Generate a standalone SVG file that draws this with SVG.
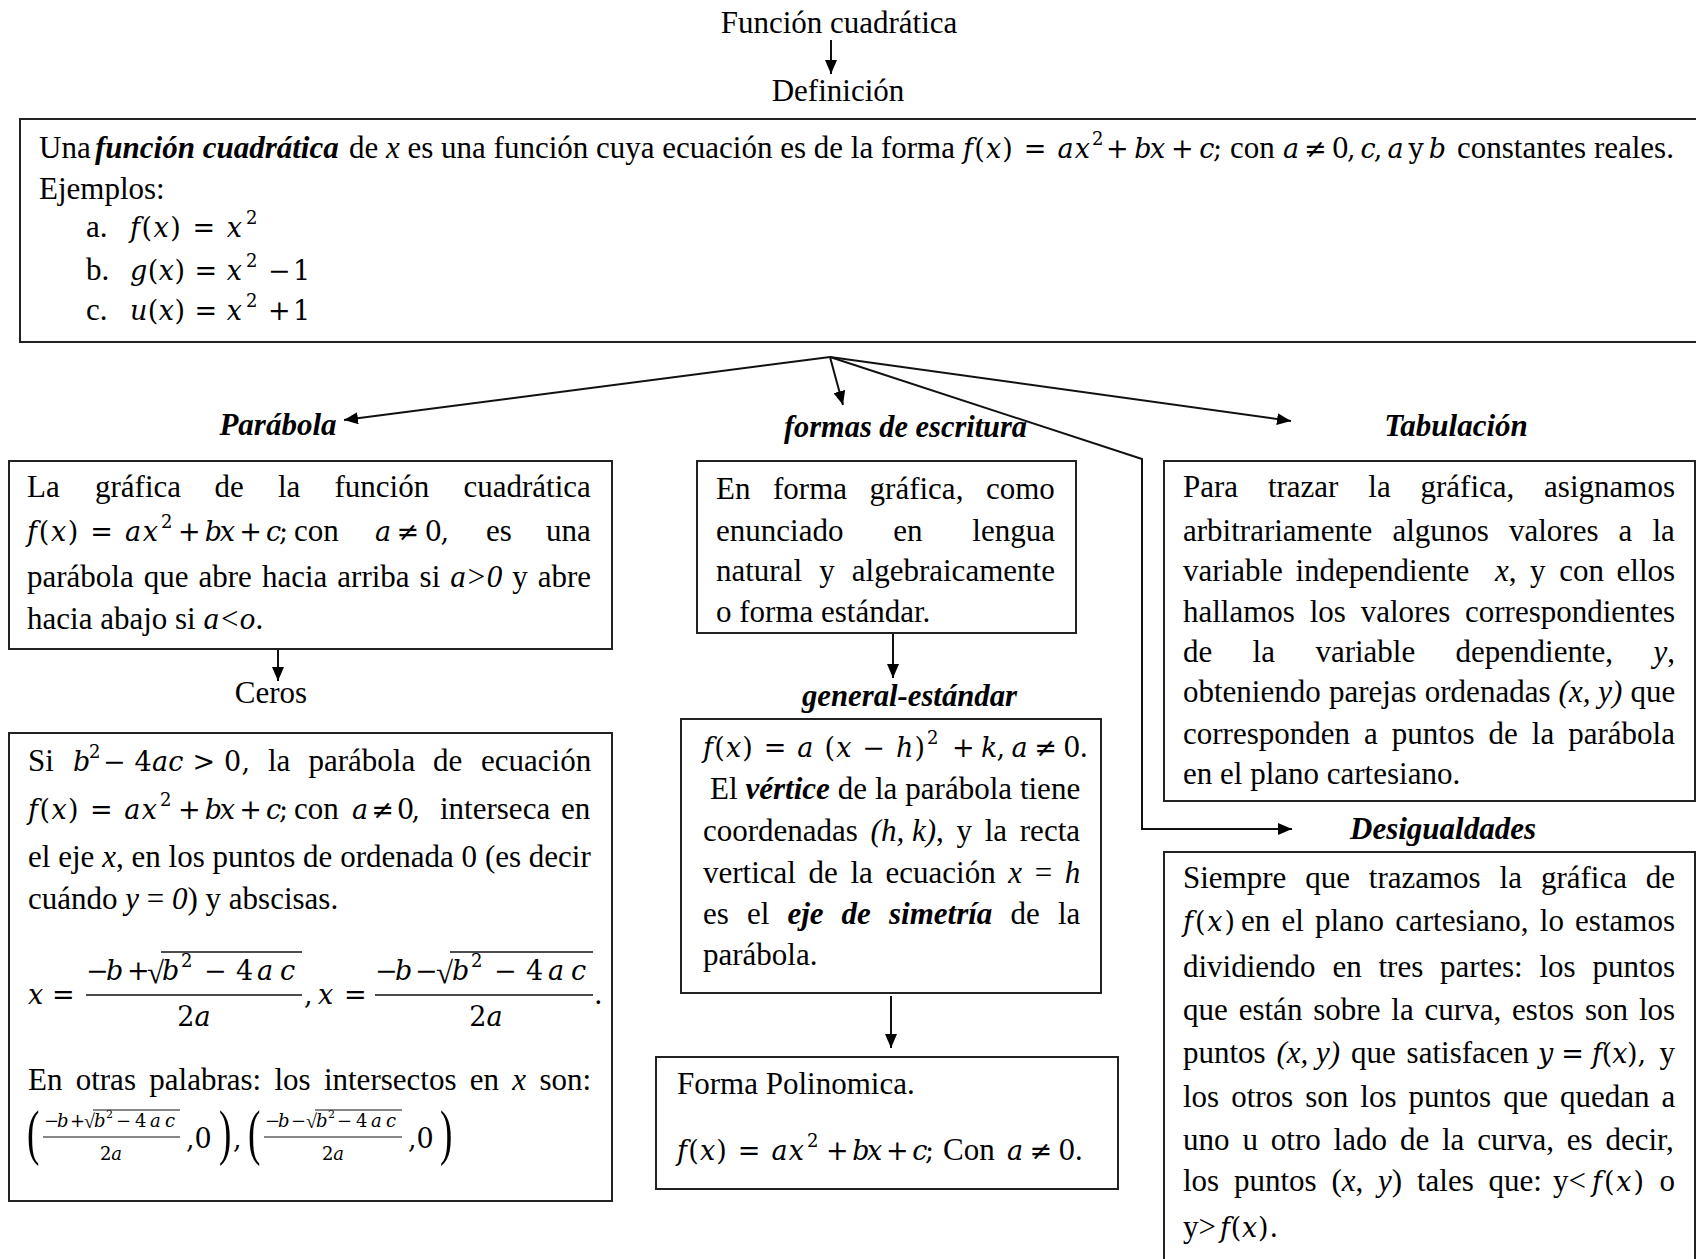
<svg xmlns="http://www.w3.org/2000/svg" width="1696" height="1259" viewBox="0 0 1696 1259">
<style>
.t{font-family:"Liberation Serif","Times New Roman",serif;font-size:31px;fill:#000}
.m{font-family:"DejaVu Serif","Liberation Serif",serif;font-size:27px;fill:#000}
.i{font-style:italic}
.b{font-weight:bold}
.bi{font-weight:bold;font-style:italic}
.s{font-size:18px}
.sm{font-size:18px}
.xs{font-size:11px}
.box{fill:#fff;stroke:#222;stroke-width:2}
.c{fill:none;stroke:#111;stroke-width:2}
.fr{stroke:#111;stroke-width:1.6}
</style>
<defs>
<marker id="ah" markerUnits="userSpaceOnUse" markerWidth="14" markerHeight="12" refX="14" refY="6" orient="auto">
<path d="M0,0 L14,6 L0,12 z" fill="#000"/>
</marker>
</defs>
<rect width="1696" height="1259" fill="#fff"/>

<g id="connectors">
<line class="c" x1="831" y1="40" x2="831" y2="74" marker-end="url(#ah)"/>
<line class="c" x1="830" y1="357" x2="344" y2="420" marker-end="url(#ah)"/>
<line class="c" x1="830" y1="357" x2="843" y2="405" marker-end="url(#ah)"/>
<line class="c" x1="830" y1="357" x2="1291" y2="421" marker-end="url(#ah)"/>
<polyline class="c" points="830,357 1142,459 1142,829 1292,829" marker-end="url(#ah)"/>
<line class="c" x1="278" y1="649" x2="278" y2="681" marker-end="url(#ah)"/>
<line class="c" x1="893" y1="633" x2="893" y2="678" marker-end="url(#ah)"/>
<line class="c" x1="891" y1="996" x2="891" y2="1048" marker-end="url(#ah)"/>
</g>

<g id="n-titulo"><text class="t" x="839" y="33" text-anchor="middle">Función cuadrática</text></g>
<g id="n-definicion-label"><text class="t" x="838" y="101" text-anchor="middle">Definición</text></g>

<g id="n-definicion">
<rect class="box" x="20" y="119" width="1700" height="223"/>
<text class="t" x="39" y="158">Una</text>
<text class="t bi" x="95" y="158">función cuadrática</text>
<text class="t" x="349" y="158">de <tspan class="i">x</tspan> es una función cuya ecuación es de la forma</text>
<text class="m" x="963" y="158" textLength="127" lengthAdjust="spacing"><tspan class="i">f</tspan>(<tspan class="i">x</tspan>) = <tspan class="i">ax</tspan></text>
<text class="m s" x="1092" y="145">2</text>
<text class="m" x="1106" y="158" textLength="116" lengthAdjust="spacing">+ <tspan class="i">bx</tspan> + <tspan class="i">c</tspan>;</text>
<text class="t" x="1230" y="158">con</text>
<text class="m" x="1283" y="158" textLength="163" lengthAdjust="spacing"><tspan class="i">a</tspan> ≠ 0, <tspan class="i">c</tspan>, <tspan class="i">a</tspan> y <tspan class="i">b</tspan></text>
<text class="t" x="1457" y="158">constantes reales.</text>
<text class="t" x="39" y="199">Ejemplos:</text>
<text class="t" x="86" y="237">a.</text>
<text class="m" x="130" y="237" textLength="112" lengthAdjust="spacing"><tspan class="i">f</tspan>(<tspan class="i">x</tspan>) = <tspan class="i">x</tspan></text>
<text class="m s" x="246" y="224">2</text>
<text class="t" x="86" y="280">b.</text>
<text class="m" x="130" y="280" textLength="112" lengthAdjust="spacing"><tspan class="i">g</tspan>(<tspan class="i">x</tspan>) = <tspan class="i">x</tspan></text>
<text class="m s" x="246" y="267">2</text>
<text class="m" y="280"><tspan x="268">−</tspan><tspan x="293">1</tspan></text>
<text class="t" x="86" y="320">c.</text>
<text class="m" x="130" y="320" textLength="112" lengthAdjust="spacing"><tspan class="i">u</tspan>(<tspan class="i">x</tspan>) = <tspan class="i">x</tspan></text>
<text class="m s" x="246" y="307">2</text>
<text class="m" y="320"><tspan x="268">+</tspan><tspan x="293">1</tspan></text>
</g>

<g id="n-parabola-label"><text class="t bi" x="278" y="435" text-anchor="middle">Parábola</text></g>
<g id="n-parabola">
<rect class="box" x="9" y="461" width="603" height="188"/>
<text class="t" y="497"><tspan x="27">La</tspan><tspan x="95">gráfica</tspan><tspan x="214.5">de</tspan><tspan x="278">la</tspan><tspan x="334.5">función</tspan><tspan x="463.5">cuadrática</tspan></text>
<text class="m" x="27" y="541" textLength="131" lengthAdjust="spacing"><tspan class="i">f</tspan>(<tspan class="i">x</tspan>) = <tspan class="i">ax</tspan></text>
<text class="m s" x="161" y="528">2</text>
<text class="m" x="178" y="541" textLength="110" lengthAdjust="spacing">+ <tspan class="i">bx</tspan> + <tspan class="i">c</tspan>;</text>
<text class="t" x="294" y="541">con</text>
<text class="m" x="375" y="541" textLength="74" lengthAdjust="spacing"><tspan class="i">a</tspan> ≠ 0,</text>
<text class="t" y="541"><tspan x="486">es</tspan><tspan x="546">una</tspan></text>
<text class="t" y="587"><tspan x="27">parábola</tspan><tspan x="143.7">que</tspan><tspan x="198.5">abre</tspan><tspan x="261.9">hacia</tspan><tspan x="337.3">arriba</tspan><tspan x="419.6">si</tspan><tspan x="450.3" class="i">a&gt;0</tspan><tspan x="512.2">y</tspan><tspan x="537.7">abre</tspan></text>
<text class="t" x="27" y="629">hacia abajo si <tspan class="i">a&lt;o</tspan>.</text>
</g>

<g id="n-ceros-label"><text class="t" x="271" y="703" text-anchor="middle">Ceros</text></g>
<g id="n-ceros">
<rect class="box" x="9" y="733" width="603" height="468"/>
<text class="t" x="28" y="771">Si</text>
<text class="m i" x="73" y="771">b</text>
<text class="m s" x="89" y="758">2</text>
<text class="m" x="103" y="771" textLength="147" lengthAdjust="spacing">− 4<tspan class="i">ac</tspan> &gt; 0,</text>
<text class="t" y="771"><tspan x="268">la</tspan><tspan x="308.5">parábola</tspan><tspan x="433">de</tspan><tspan x="481">ecuación</tspan></text>
<text class="m" x="28" y="819" textLength="129" lengthAdjust="spacing"><tspan class="i">f</tspan>(<tspan class="i">x</tspan>) = <tspan class="i">ax</tspan></text>
<text class="m s" x="160" y="806">2</text>
<text class="m" x="178" y="819" textLength="110" lengthAdjust="spacing">+ <tspan class="i">bx</tspan> + <tspan class="i">c</tspan>;</text>
<text class="t" x="294" y="819">con</text>
<text class="m" x="352" y="819" textLength="68" lengthAdjust="spacing"><tspan class="i">a</tspan> ≠ 0,</text>
<text class="t" y="819"><tspan x="440">interseca</tspan><tspan x="561">en</tspan></text>
<text class="t" y="867"><tspan x="28">el</tspan><tspan x="58.2">eje</tspan><tspan x="102.2" class="i">x</tspan><tspan>,</tspan><tspan x="131.5">en</tspan><tspan x="168.6">los</tspan><tspan x="212.6">puntos</tspan><tspan x="303.1">de</tspan><tspan x="340.2">ordenada</tspan><tspan x="461.6">0</tspan><tspan x="484.9">(es</tspan><tspan x="528.8">decir</tspan></text>
<text class="t" x="28" y="909">cuándo <tspan class="i">y</tspan> = <tspan class="i">0</tspan>) y abscisas.</text>
<text class="m" y="1004"><tspan x="28" class="i">x</tspan><tspan x="52">=</tspan></text>
<text class="m" y="980"><tspan x="86">−</tspan><tspan x="106" class="i">b</tspan><tspan x="127">+</tspan><tspan x="147" dy="3" class="t">√</tspan><tspan x="162" dy="-3" class="i">b</tspan><tspan x="181" dy="-13" style="font-size:18px">2</tspan><tspan x="204" dy="13">−</tspan><tspan x="236">4</tspan><tspan x="257" class="i">a</tspan><tspan x="280" class="i">c</tspan></text>
<line class="fr" x1="161" y1="952" x2="302" y2="952"/>
<line class="fr" x1="86" y1="995" x2="302" y2="995"/>
<text class="m" x="194" y="1026" text-anchor="middle">2<tspan class="i">a</tspan></text>
<text class="m" y="1004"><tspan x="304">,</tspan><tspan x="318" class="i">x</tspan><tspan x="344">=</tspan></text>
<text class="m" y="980"><tspan x="375">−</tspan><tspan x="395" class="i">b</tspan><tspan x="415">−</tspan><tspan x="436" dy="3" class="t">√</tspan><tspan x="452" dy="-3" class="i">b</tspan><tspan x="471" dy="-13" style="font-size:18px">2</tspan><tspan x="494" dy="13">−</tspan><tspan x="526">4</tspan><tspan x="548" class="i">a</tspan><tspan x="571" class="i">c</tspan></text>
<line class="fr" x1="450" y1="952" x2="593" y2="952"/>
<line class="fr" x1="375" y1="995" x2="593" y2="995"/>
<text class="m" x="486" y="1026" text-anchor="middle">2<tspan class="i">a</tspan></text>
<text class="m" x="594" y="1004">.</text>
<text class="t" y="1090"><tspan x="28">En</tspan><tspan x="75.7">otras</tspan><tspan x="149.3">palabras:</tspan><tspan x="274.4">los</tspan><tspan x="323.9">intersectos</tspan><tspan x="469.8">en</tspan><tspan x="512.3" class="i">x</tspan><tspan x="539.4">son:</tspan></text>
<text class="t" transform="translate(27,1153) scale(0.6,1)" style="font-size:62px">(</text>
<text class="m sm" y="1127"><tspan x="44">−</tspan><tspan x="57" class="i">b</tspan><tspan x="70">+</tspan><tspan x="84" dy="1" style="font-family:'Liberation Serif',serif;font-size:20px">√</tspan><tspan x="94" dy="-1" class="i">b</tspan><tspan x="106" dy="-9" style="font-size:11px">2</tspan><tspan x="116" dy="9">−</tspan><tspan x="135">4</tspan><tspan x="150" class="i">a</tspan><tspan x="165" class="i">c</tspan></text>
<line class="fr" x1="93" y1="1110" x2="180" y2="1110" style="stroke-width:1.2"/>
<line class="fr" x1="43" y1="1137" x2="180" y2="1137" style="stroke-width:1.2"/>
<text class="m sm" x="111" y="1160" text-anchor="middle">2<tspan class="i">a</tspan></text>
<text class="m" x="186" y="1148">,0</text>
<text class="t" transform="translate(219,1153) scale(0.6,1)" style="font-size:62px">)</text>
<text class="m" x="233" y="1148">,</text>
<text class="t" transform="translate(248,1153) scale(0.6,1)" style="font-size:62px">(</text>
<text class="m sm" y="1127"><tspan x="265">−</tspan><tspan x="278" class="i">b</tspan><tspan x="291">−</tspan><tspan x="306" dy="1" style="font-family:'Liberation Serif',serif;font-size:20px">√</tspan><tspan x="316" dy="-1" class="i">b</tspan><tspan x="328" dy="-9" style="font-size:11px">2</tspan><tspan x="337" dy="9">−</tspan><tspan x="356">4</tspan><tspan x="371" class="i">a</tspan><tspan x="386" class="i">c</tspan></text>
<line class="fr" x1="315" y1="1110" x2="402" y2="1110" style="stroke-width:1.2"/>
<line class="fr" x1="264" y1="1137" x2="402" y2="1137" style="stroke-width:1.2"/>
<text class="m sm" x="333" y="1160" text-anchor="middle">2<tspan class="i">a</tspan></text>
<text class="m" x="408" y="1148">,0</text>
<text class="t" transform="translate(440,1153) scale(0.6,1)" style="font-size:62px">)</text>
</g>

<g id="n-formas-label"><text class="t bi" x="784" y="437" textLength="243" lengthAdjust="spacingAndGlyphs">formas de escritura</text></g>
<g id="n-formas">
<rect class="box" x="697" y="461" width="379" height="172"/>
<text class="t" y="499"><tspan x="716">En</tspan><tspan x="773">forma</tspan><tspan x="869.6">gráfica,</tspan><tspan x="986">como</tspan></text>
<text class="t" y="541"><tspan x="716">enunciado</tspan><tspan x="893.2">en</tspan><tspan x="972.3">lengua</tspan></text>
<text class="t" y="581"><tspan x="716">natural</tspan><tspan x="819.2">y</tspan><tspan x="851.8">algebraicamente</tspan></text>
<text class="t" x="716" y="622">o forma estándar.</text>
</g>

<g id="n-general-label"><text class="t bi" x="802" y="706" textLength="215" lengthAdjust="spacingAndGlyphs">general-estándar</text></g>
<g id="n-general">
<rect class="box" x="681" y="719" width="420" height="274"/>
<text class="m" x="703" y="757" textLength="222" lengthAdjust="spacing"><tspan class="i">f</tspan>(<tspan class="i">x</tspan>) = <tspan class="i">a</tspan> (<tspan class="i">x</tspan> − <tspan class="i">h</tspan>)</text>
<text class="m s" x="927" y="744">2</text>
<text class="m" x="952" y="757" textLength="136" lengthAdjust="spacing">+ <tspan class="i">k</tspan>, <tspan class="i">a</tspan> ≠ 0.</text>
<text class="t" y="799"><tspan x="710">El</tspan><tspan x="745.5" class="bi">vértice</tspan><tspan x="837.8">de</tspan><tspan x="875">la</tspan><tspan x="905.3">parábola</tspan><tspan x="1019.9">tiene</tspan></text>
<text class="t" y="841"><tspan x="703">coordenadas</tspan><tspan x="870.6" class="i">(h, k)</tspan><tspan>,</tspan><tspan x="956.5">y</tspan><tspan x="984.7">la</tspan><tspan x="1019.8">recta</tspan></text>
<text class="t" y="883"><tspan x="703">vertical</tspan><tspan x="808.6">de</tspan><tspan x="850.5">la</tspan><tspan x="885.5">ecuación</tspan><tspan x="1008.3" class="i">x</tspan><tspan x="1034.7">=</tspan><tspan x="1064.8" class="i">h</tspan></text>
<text class="t" y="924"><tspan x="703">es</tspan><tspan x="746.9">el</tspan><tspan x="787.4" class="bi">eje</tspan><tspan x="841.6" class="bi">de</tspan><tspan x="889" class="bi">simetría</tspan><tspan x="1010.5">de</tspan><tspan x="1057.9">la</tspan></text>
<text class="t" x="703" y="965">parábola.</text>
</g>

<g id="n-polinomica">
<rect class="box" x="656" y="1057" width="462" height="132"/>
<text class="t" x="677" y="1094">Forma Polinomica.</text>
<text class="m" x="677" y="1160" textLength="127" lengthAdjust="spacing"><tspan class="i">f</tspan>(<tspan class="i">x</tspan>) = <tspan class="i">ax</tspan></text>
<text class="m s" x="807" y="1147">2</text>
<text class="m" x="826" y="1160" textLength="108" lengthAdjust="spacing">+ <tspan class="i">bx</tspan> + <tspan class="i">c</tspan>;</text>
<text class="t" x="943" y="1160">Con</text>
<text class="m" x="1007" y="1160" textLength="76" lengthAdjust="spacing"><tspan class="i">a</tspan> ≠ 0.</text>
</g>

<g id="n-tabulacion-label"><text class="t bi" x="1456" y="436" text-anchor="middle">Tabulación</text></g>
<g id="n-tabulacion">
<rect class="box" x="1164" y="461" width="531" height="340"/>
<text class="t" y="497"><tspan x="1183">Para</tspan><tspan x="1267.9">trazar</tspan><tspan x="1368.3">la</tspan><tspan x="1420.5">gráfica,</tspan><tspan x="1544.1">asignamos</tspan></text>
<text class="t" y="541"><tspan x="1183">arbitrariamente</tspan><tspan x="1392.5">algunos</tspan><tspan x="1509">valores</tspan><tspan x="1618.6">a</tspan><tspan x="1652.5">la</tspan></text>
<text class="t" y="581"><tspan x="1183">variable</tspan><tspan x="1295.4">independiente</tspan><tspan x="1495" class="i">x</tspan><tspan>,</tspan><tspan x="1530">y</tspan><tspan x="1559.3">con</tspan><tspan x="1616.6">ellos</tspan></text>
<text class="t" y="622"><tspan x="1183">hallamos</tspan><tspan x="1309.7">los</tspan><tspan x="1360.7">valores</tspan><tspan x="1465">correspondientes</tspan></text>
<text class="t" y="662"><tspan x="1183">de</tspan><tspan x="1252.6">la</tspan><tspan x="1315.4">variable</tspan><tspan x="1455.6">dependiente,</tspan><tspan x="1653.5" class="i">y</tspan><tspan>,</tspan></text>
<text class="t" y="702"><tspan x="1183">obteniendo</tspan><tspan x="1328.9">parejas</tspan><tspan x="1424.8">ordenadas</tspan><tspan x="1558.6" class="i">(x, y)</tspan><tspan x="1630.4">que</tspan></text>
<text class="t" y="744"><tspan x="1183">corresponden</tspan><tspan x="1364">a</tspan><tspan x="1391.8">puntos</tspan><tspan x="1488.5">de</tspan><tspan x="1531.8">la</tspan><tspan x="1568.2">parábola</tspan></text>
<text class="t" x="1183" y="784">en el plano cartesiano.</text>
</g>

<g id="n-desigualdades-label"><text class="t bi" x="1443" y="839" text-anchor="middle">Desigualdades</text></g>
<g id="n-desigualdades">
<rect class="box" x="1164" y="852" width="531" height="500"/>
<text class="t" y="888"><tspan x="1183">Siempre</tspan><tspan x="1305.2">que</tspan><tspan x="1368.8">trazamos</tspan><tspan x="1499.6">la</tspan><tspan x="1540.9">gráfica</tspan><tspan x="1645.8">de</tspan></text>
<text class="m" x="1183" y="931" textLength="52" lengthAdjust="spacing"><tspan class="i">f</tspan>(<tspan class="i">x</tspan>)</text>
<text class="t" y="931"><tspan x="1241">en</tspan><tspan x="1281.5">el</tspan><tspan x="1315.1">plano</tspan><tspan x="1395.2">cartesiano,</tspan><tspan x="1539.8">lo</tspan><tspan x="1575.1">estamos</tspan></text>
<text class="t" y="977"><tspan x="1183">dividiendo</tspan><tspan x="1332.4">en</tspan><tspan x="1378.5">tres</tspan><tspan x="1440.1">partes:</tspan><tspan x="1539.5">los</tspan><tspan x="1592.5">puntos</tspan></text>
<text class="t" y="1020"><tspan x="1183">que</tspan><tspan x="1238.7">están</tspan><tspan x="1313.3">sobre</tspan><tspan x="1391.3">la</tspan><tspan x="1424.6">curva,</tspan><tspan x="1512.1">estos</tspan><tspan x="1585">son</tspan><tspan x="1639">los</tspan></text>
<text class="t" y="1063"><tspan x="1183">puntos</tspan><tspan x="1276.5" class="i">(x, y)</tspan><tspan x="1351">que</tspan><tspan x="1406.6">satisfacen</tspan></text>
<text class="m" x="1538" y="1063" textLength="108" lengthAdjust="spacing"><tspan class="i">y</tspan> = <tspan class="i">f</tspan>(<tspan class="i">x</tspan>),</text>
<text class="t" x="1659.4" y="1063">y</text>
<text class="t" y="1107"><tspan x="1183">los</tspan><tspan x="1231.2">otros</tspan><tspan x="1305.2">son</tspan><tspan x="1360.3">los</tspan><tspan x="1408.5">puntos</tspan><tspan x="1503.2">que</tspan><tspan x="1560">quedan</tspan><tspan x="1661.5">a</tspan></text>
<text class="t" y="1150"><tspan x="1183">uno</tspan><tspan x="1242.4">u</tspan><tspan x="1270.8">otro</tspan><tspan x="1333.6">lado</tspan><tspan x="1399.9">de</tspan><tspan x="1442">la</tspan><tspan x="1477.3">curva,</tspan><tspan x="1566.8">es</tspan><tspan x="1605.4">decir,</tspan></text>
<text class="t" y="1191"><tspan x="1183">los</tspan><tspan x="1234">puntos</tspan><tspan x="1331.5">(<tspan class="i">x</tspan>,</tspan><tspan x="1378.1"><tspan class="i">y</tspan>)</tspan><tspan x="1417">tales</tspan><tspan x="1488.6">que:</tspan><tspan x="1553">y&lt;</tspan></text>
<text class="m" x="1592" y="1191" textLength="52" lengthAdjust="spacing"><tspan class="i">f</tspan>(<tspan class="i">x</tspan>)</text>
<text class="t" x="1659.6" y="1191">o</text>
<text class="t" x="1183" y="1237">y&gt;</text>
<text class="m" x="1220" y="1237" textLength="58" lengthAdjust="spacing"><tspan class="i">f</tspan>(<tspan class="i">x</tspan>).</text>
</g>
</svg>
